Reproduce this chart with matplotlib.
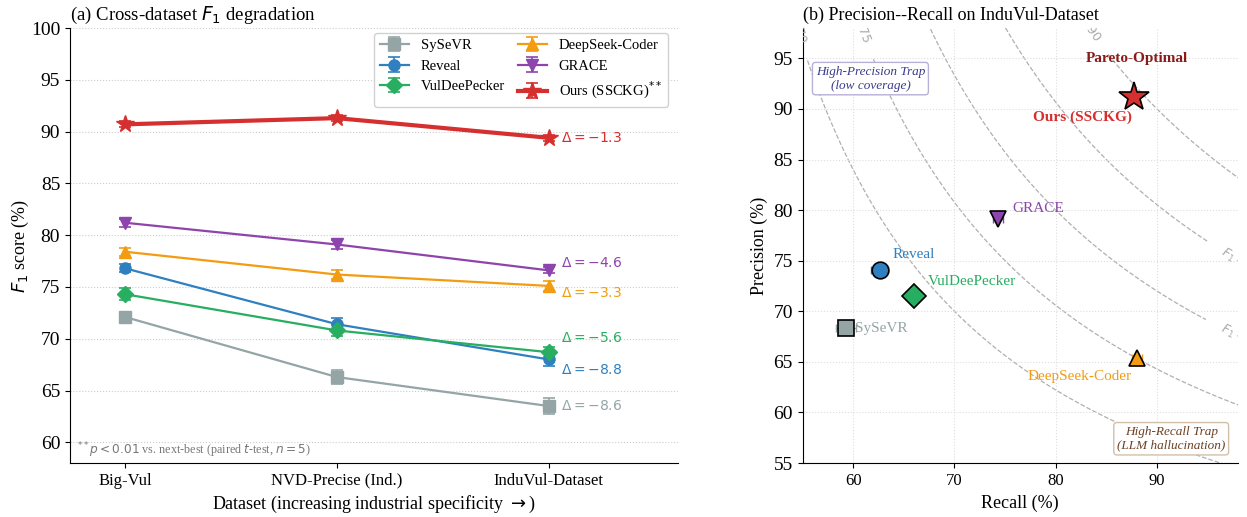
import matplotlib
matplotlib.use("Agg")
import matplotlib.pyplot as plt
import numpy as np

plt.rcParams['font.family'] = ['Liberation Serif', 'DejaVu Serif']
plt.rcParams['mathtext.fontset'] = 'dejavusans'

# ---- data ----
datasets = ["Big-Vul", "NVD-Precise (Ind.)", "InduVul-Dataset"]
methods = ["SySeVR", "Reveal", "VulDeePecker", "DeepSeek-Coder", "GRACE", "Ours (SSCKG)"]

f1_sysevr = [72.1, 66.3, 63.5]
f1_reveal = [76.8, 71.4, 68.0]
f1_vuldee = [74.3, 70.8, 68.7]
f1_deepseek = [78.4, 76.2, 75.1]
f1_grace = [81.2, 79.1, 76.6]
f1_ours = [90.7, 91.3, 89.4]

err_sysevr = [0.5, 0.7, 0.8]
err_reveal = [0.4, 0.6, 0.6]
err_vuldee = [0.6, 0.5, 0.5]
err_deepseek = [0.4, 0.4, 0.5]
err_grace = [0.4, 0.4, 0.3]
err_ours = [0.3, 0.3, 0.3]

# precision / recall on InduVul-Dataset
recall = [59.3, 62.6, 66.0, 88.0, 74.3, 87.7]
precision = [68.3, 74.1, 71.5, 65.4, 79.1, 91.2]
recall_err = [1.0, 0.8, 0.6, 0.5, 0.5, 0.3]

iso_levels = [70, 75, 80, 85, 90]

colors = ["#95a5a6", "#2e80c0", "#27ae60", "#f39c12", "#8e44ad", "#d62f2f"]
markers = ["s", "o", "D", "^", "v", "*"]

f1_all = [f1_sysevr, f1_reveal, f1_vuldee, f1_deepseek, f1_grace, f1_ours]
err_all = [err_sysevr, err_reveal, err_vuldee, err_deepseek, err_grace, err_ours]

fig = plt.figure(figsize=(12.47, 5.17), dpi=100)
ax1 = fig.add_axes([0.0561, 0.1044, 0.4876, 0.8414])
ax2 = fig.add_axes([0.6436, 0.1044, 0.3492, 0.8414])

# ---- (a) cross-dataset F1 ----
x = np.arange(len(datasets))
for name, f1, err, c, m in zip(methods, f1_all, err_all, colors, markers):
    ours = name.startswith("Ours")
    label = name + r"$^{**}$" if ours else name
    ax1.errorbar(x, f1, yerr=err, color=c, marker=m,
                 markersize=13 if ours else 8,
                 linewidth=3 if ours else 1.6,
                 capsize=4, capthick=1.2, elinewidth=1.2,
                 label=label, zorder=4 if ours else 3)

# drop from Big-Vul to InduVul-Dataset, nudged so labels don't collide
delta_offsets = {"GRACE": 0.75, "DeepSeek-Coder": -0.7, "VulDeePecker": 1.4,
                 "Reveal": -1.0, "SySeVR": 0.0, "Ours (SSCKG)": 0.0}
for name, f1, c in zip(methods, f1_all, colors):
    d = f1[-1] - f1[0]
    ax1.text(x[-1] + 0.06, f1[-1] + delta_offsets[name], r"$\Delta=%.1f$" % d,
             color=c, fontsize=10, va="center", ha="left")

ax1.set_xlim(-0.26, 2.61)
ax1.set_ylim(58, 100)
ax1.set_xticks(x)
ax1.set_xticklabels(datasets, fontsize=12)
ax1.set_yticks(np.arange(60, 101, 5))
ax1.tick_params(axis="y", labelsize=14)
ax1.set_xlabel(r"Dataset (increasing industrial specificity $\rightarrow$)", fontsize=13)
ax1.set_ylabel(r"$F_1$ score (%)", fontsize=13, labelpad=0)
ax1.set_title(r"(a) Cross-dataset $F_1$ degradation", loc="left", fontsize=13.5, pad=6)
ax1.grid(axis="y", linestyle=":", color="#cccccc", linewidth=0.8)
ax1.spines["top"].set_visible(False)
ax1.spines["right"].set_visible(False)
ax1.legend(loc="upper right", ncol=2, fontsize=10.5, framealpha=0.9,
           edgecolor="#cccccc", handlelength=2.0, handletextpad=0.8,
           columnspacing=0.9, bbox_to_anchor=(0.995, 1.005))
ax1.text(0.012, 0.008, r"$^{**}p<0.01$ vs. next-best (paired $t$-test, $n=5$)",
         transform=ax1.transAxes, fontsize=8.7, color="#777777", ha="left", va="bottom")

# ---- (b) precision-recall with iso-F1 curves ----
rg, pg = np.meshgrid(np.linspace(40, 105, 400), np.linspace(45, 110, 400))
f1g = 2 * pg * rg / (pg + rg)
cs = ax2.contour(rg, pg, f1g, levels=iso_levels, colors="#b0b0b0",
                 linestyles="--", linewidths=0.9, zorder=1)
ax2.clabel(cs, fmt={v: r"$F_1=%d$" % v for v in iso_levels}, fontsize=9,
           inline=True, inline_spacing=4,
           manual=[(54.3, 98.6), (60.5, 98.6), (98.4, 67.4),
                   (98.4, 74.9), (82.8, 98.6)])
for t in cs.labelTexts:
    t.set_color("#aaaaaa")
    t.set_clip_on(True)

for name, r, p, rerr, c, m in zip(methods, recall, precision, recall_err, colors, markers):
    ours = name.startswith("Ours")
    ax2.errorbar(r, p, xerr=rerr, color=c, capsize=3, elinewidth=1.0,
                 linestyle="none", zorder=3)
    ax2.plot(r, p, marker=m, color=c, markersize=22 if ours else 12,
             markeredgecolor="black", markeredgewidth=1.2, linestyle="none", zorder=4)

label_pos = {
    "SySeVR": (60.2, 68.3, "left"),
    "Reveal": (63.9, 75.6, "left"),
    "VulDeePecker": (67.4, 72.9, "left"),
    "DeepSeek-Coder": (82.4, 63.6, "center"),
    "GRACE": (75.7, 80.2, "left"),
}
for name, c in zip(methods, colors):
    if name in label_pos:
        lx, ly, ha = label_pos[name]
        ax2.text(lx, ly, name, color=c, fontsize=11, ha=ha, va="center")

ax2.text(82.6, 89.2, "Ours (SSCKG)", color="#d62f2f", fontsize=11,
         fontweight="bold", ha="center", va="center")
ax2.text(88.0, 95.0, "Pareto-Optimal", color="#8b1a1a", fontsize=11,
         fontweight="bold", ha="center", va="center")
ax2.text(61.7, 93.0, "High-Precision Trap\n(low coverage)", color="#3b3b8c",
         fontsize=9.5, style="italic", ha="center", va="center",
         bbox=dict(boxstyle="round,pad=0.25", facecolor="white",
                   edgecolor="#b8b0d8", linewidth=1))
ax2.text(91.4, 57.4, "High-Recall Trap\n(LLM hallucination)", color="#6b4226",
         fontsize=9.5, style="italic", ha="center", va="center",
         bbox=dict(boxstyle="round,pad=0.25", facecolor="white",
                   edgecolor="#d2bfa8", linewidth=1))

ax2.set_xlim(55, 98)
ax2.set_ylim(55, 98)
ax2.set_xticks([60, 70, 80, 90])
ax2.set_yticks(np.arange(55, 96, 5))
ax2.tick_params(axis="x", labelsize=12)
ax2.tick_params(axis="y", labelsize=14)
ax2.set_xlabel("Recall (%)", fontsize=13)
ax2.set_ylabel("Precision (%)", fontsize=13)
ax2.set_title("(b) Precision--Recall on InduVul-Dataset", loc="left", fontsize=13, pad=6)
ax2.grid(linestyle=":", color="#dddddd", linewidth=0.8)
ax2.spines["top"].set_visible(False)
ax2.spines["right"].set_visible(False)

fig.savefig("out.png", dpi=100)
